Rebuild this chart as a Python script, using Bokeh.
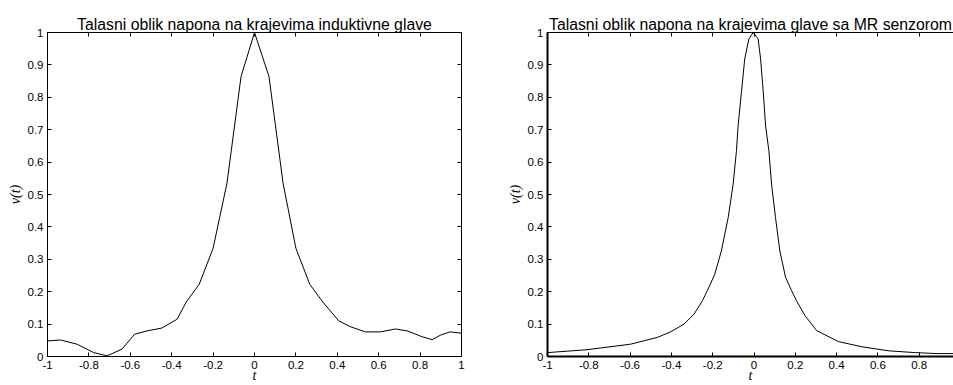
from bokeh.plotting import figure
from bokeh.models import LinearAxis, FixedTicker, NumeralTickFormatter, Range1d
from bokeh.layouts import row
from bokeh.embed import file_html
from bokeh.resources import INLINE

# ---- data ----
title_left = "Talasni oblik napona na krajevima induktivne glave"
title_right = "Talasni oblik napona na krajevima glave sa MR senzorom"
x_ticks = [-1, -0.8, -0.6, -0.4, -0.2, 0, 0.2, 0.4, 0.6, 0.8, 1]
y_ticks = [0, 0.1, 0.2, 0.3, 0.4, 0.5, 0.6, 0.7, 0.8, 0.9, 1]

left_t = [-1.0, -0.938, -0.857, -0.777, -0.712, -0.640, -0.579, -0.519, -0.447, -0.374,
          -0.330, -0.267, -0.200, -0.133, -0.065, 0.0, 0.070, 0.138, 0.200, 0.267,
          0.330, 0.407, 0.463, 0.536, 0.609, 0.681, 0.738, 0.810, 0.858, 0.899, 0.944, 1.0]
left_v = [0.048, 0.051, 0.038, 0.012, 0.002, 0.023, 0.069, 0.079, 0.088, 0.115,
          0.168, 0.223, 0.334, 0.535, 0.864, 1.0, 0.864, 0.535, 0.334, 0.223,
          0.168, 0.110, 0.092, 0.076, 0.076, 0.085, 0.079, 0.061, 0.052, 0.066, 0.076, 0.072]

right_t = [-1.0, -0.808, -0.598, -0.468, -0.404, -0.339, -0.290, -0.250, -0.226, -0.190,
           -0.158, -0.125, -0.101, -0.085, -0.077, -0.061, -0.045, -0.025, -0.004, 0.020,
           0.032, 0.045, 0.056, 0.072, 0.085, 0.104, 0.125, 0.153, 0.182, 0.206,
           0.247, 0.303, 0.409, 0.522, 0.651, 0.781, 0.886, 0.973]
right_v = [0.012, 0.021, 0.038, 0.059, 0.076, 0.100, 0.131, 0.172, 0.203, 0.254,
           0.326, 0.429, 0.532, 0.635, 0.712, 0.815, 0.918, 0.980, 1.0, 0.980,
           0.918, 0.815, 0.712, 0.635, 0.532, 0.429, 0.326, 0.244, 0.203, 0.172,
           0.126, 0.080, 0.046, 0.030, 0.0176, 0.012, 0.009, 0.009]

FONT = "Liberation Sans"
SERIF = "Liberation Serif"
TICK_SIZE = "11.5px"


def make(title, t, v, width, x_end, border_right, right_axis, spine_w):
    p = figure(width=width, height=385, x_range=Range1d(-1, x_end), y_range=Range1d(0, 1),
               output_backend="svg", toolbar_location=None,
               min_border_left=47, min_border_right=border_right,
               min_border_top=32, min_border_bottom=29)
    p.xgrid.visible = False
    p.ygrid.visible = False
    p.background_fill_color = "white"
    p.border_fill_color = "white"
    p.outline_line_color = "black" if right_axis else None

    p.title.text = title
    p.title.align = "center"
    p.title.text_font = FONT
    p.title.text_font_size = "15.8px"
    p.title.text_font_style = "normal"
    p.title.text_color = "black"
    p.title.standoff = 0

    xa = p.xaxis[0]
    ya = p.yaxis[0]
    xa.ticker = FixedTicker(ticks=x_ticks)
    ya.ticker = FixedTicker(ticks=y_ticks)
    for ax in (xa, ya):
        ax.major_tick_in = 4
        ax.major_tick_out = 0
        ax.minor_tick_in = 0
        ax.minor_tick_out = 0
        ax.axis_line_color = "black"
        ax.axis_line_width = spine_w
        ax.major_tick_line_color = "black"
        ax.formatter = NumeralTickFormatter(format="0.[0]")
        ax.major_label_text_font = FONT
        ax.major_label_text_font_size = TICK_SIZE
        ax.major_label_text_color = "black"
        ax.major_label_standoff = 4

    ya.axis_label = "v(t)"
    ya.axis_label_text_font = SERIF
    ya.axis_label_text_font_style = "italic"
    ya.axis_label_text_font_size = "14px"
    ya.axis_label_text_color = "black"
    ya.axis_label_standoff = 2

    xa.axis_label = "t"
    xa.axis_label_text_font = SERIF
    xa.axis_label_text_font_style = "italic"
    xa.axis_label_text_font_size = "14px"
    xa.axis_label_text_color = "black"
    xa.axis_label_standoff = -4

    extra = [("above", x_ticks)]
    if right_axis:
        extra.append(("right", y_ticks))
    for side, ticks in extra:
        ax = LinearAxis(ticker=FixedTicker(ticks=ticks))
        ax.major_tick_in = 4
        ax.major_tick_out = 0
        ax.minor_tick_in = 0
        ax.minor_tick_out = 0
        ax.axis_line_color = "black"
        ax.axis_line_width = 1
        ax.major_tick_line_color = "black"
        ax.major_label_text_font_size = "0px"
        ax.major_label_text_color = None
        ax.major_label_standoff = 0
        p.add_layout(ax, side)

    p.line(t, v, line_color="black", line_width=1)
    return p


p1 = make(title_left, left_t, left_v, 500, 1, 39, True, 1)
p2 = make(title_right, right_t, right_v, 453, 0.966, 0, False, 2)

layout = row(p1, p2)
open("out.html", "w").write(file_html(layout, INLINE))
